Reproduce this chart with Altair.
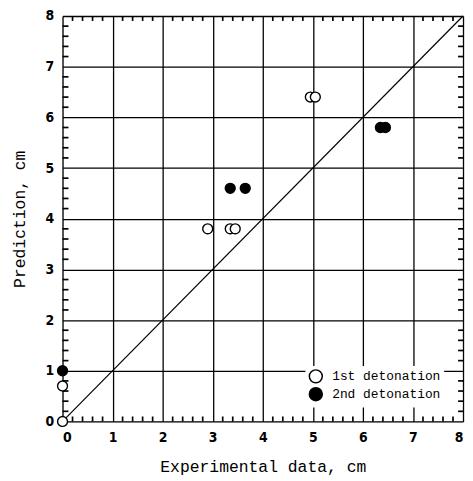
import altair as alt
import pandas as pd

# data
open_x = [0, 0, 2.9, 3.35, 3.45, 4.95, 5.05]
open_y = [0, 0.7, 3.8, 3.8, 3.8, 6.4, 6.4]
filled_x = [0, 3.35, 3.65, 6.35, 6.45]
filled_y = [1.0, 4.6, 4.6, 5.8, 5.8]
series_names = ["1st detonation", "2nd detonation"]
diag_x = [0, 8]
diag_y = [0, 8]
major_ticks = [0, 1, 2, 3, 4, 5, 6, 7, 8]
minor_ticks = [0.2, 0.4, 0.6, 0.8, 1.2, 1.4, 1.6, 1.8, 2.2, 2.4, 2.6, 2.8,
               3.2, 3.4, 3.6, 3.8, 4.2, 4.4, 4.6, 4.8, 5.2, 5.4, 5.6, 5.8,
               6.2, 6.4, 6.6, 6.8, 7.2, 7.4, 7.6, 7.8]

W, H = 404, 409

pts = pd.DataFrame({
    "x": open_x + filled_x,
    "y": open_y + filled_y,
    "series": [series_names[0]] * len(open_x) + [series_names[1]] * len(filled_x),
})
diag = pd.DataFrame({"x": diag_x, "y": diag_y})
minor = pd.DataFrame({"x": minor_ticks, "y": minor_ticks})

tick_font = "DejaVu Sans Condensed"
title_font = "Liberation Mono"

x_axis = alt.Axis(values=major_ticks, grid=True, gridColor="black", gridWidth=1.3,
                  gridOpacity=1, ticks=False, domain=False, labelFont=tick_font,
                  labelFontWeight="bold", labelFontSize=14, labelColor="black",
                  labelPadding=9, title="Experimental data, cm", titleFont=title_font,
                  titleFontSize=16.5, titleFontWeight="normal", titleColor="black",
                  titlePadding=14)
y_axis = alt.Axis(values=major_ticks, grid=True, gridColor="black", gridWidth=1.3,
                  gridOpacity=1, ticks=False, domain=False, labelFont=tick_font,
                  labelFontWeight="bold", labelFontSize=14, labelColor="black",
                  labelPadding=9, title="Prediction, cm", titleFont=title_font,
                  titleFontSize=16.5, titleFontWeight="normal", titleColor="black",
                  titlePadding=18)
xs = alt.Scale(domain=[0, 8], nice=False)
ys = alt.Scale(domain=[0, 8], nice=False)

X = alt.X("x:Q", scale=xs, axis=x_axis)
Y = alt.Y("y:Q", scale=ys, axis=y_axis)

line = alt.Chart(diag).mark_line(color="black", strokeWidth=1.2).encode(x=X, y=Y)

TL = 5
TW = 1.7
tb = alt.Chart(minor).mark_rule(color="black", strokeWidth=TW).encode(
    x=X, y=alt.value(H), y2=alt.value(H - TL))
tt = alt.Chart(minor).mark_rule(color="black", strokeWidth=TW).encode(
    x=X, y=alt.value(0), y2=alt.value(TL))
tl = alt.Chart(minor).mark_rule(color="black", strokeWidth=TW).encode(
    y=Y, x=alt.value(0), x2=alt.value(TL + 1))
tr = alt.Chart(minor).mark_rule(color="black", strokeWidth=TW).encode(
    y=Y, x=alt.value(W), x2=alt.value(W - TL))

points = alt.Chart(pts).mark_point(shape="circle", filled=True, stroke="black",
                                   strokeWidth=1.4, size=100, opacity=1).encode(
    x=X, y=Y,
    fill=alt.Fill("series:N",
                  scale=alt.Scale(domain=series_names, range=["white", "black"]),
                  legend=alt.Legend(orient="none", legendX=245, legendY=353,
                                    title=None, fillColor="white", padding=3,
                                    symbolType="circle", symbolSize=170,
                                    symbolStrokeColor="black", symbolStrokeWidth=1.5,
                                    labelFont=title_font, labelFontSize=13,
                                    labelColor="black", labelOffset=9,
                                    rowPadding=-3)),
)

chart = alt.layer(line, tb, tt, tl, tr, points).properties(
    width=W, height=H,
    autosize=alt.AutoSizeParams(type="none"),
    padding={"left": 55, "top": 6, "right": 2, "bottom": 58},
).configure_view(stroke="black", strokeWidth=1.5).configure(background="white")

chart.save("out.html", embed_options={"renderer": "svg", "actions": False})
